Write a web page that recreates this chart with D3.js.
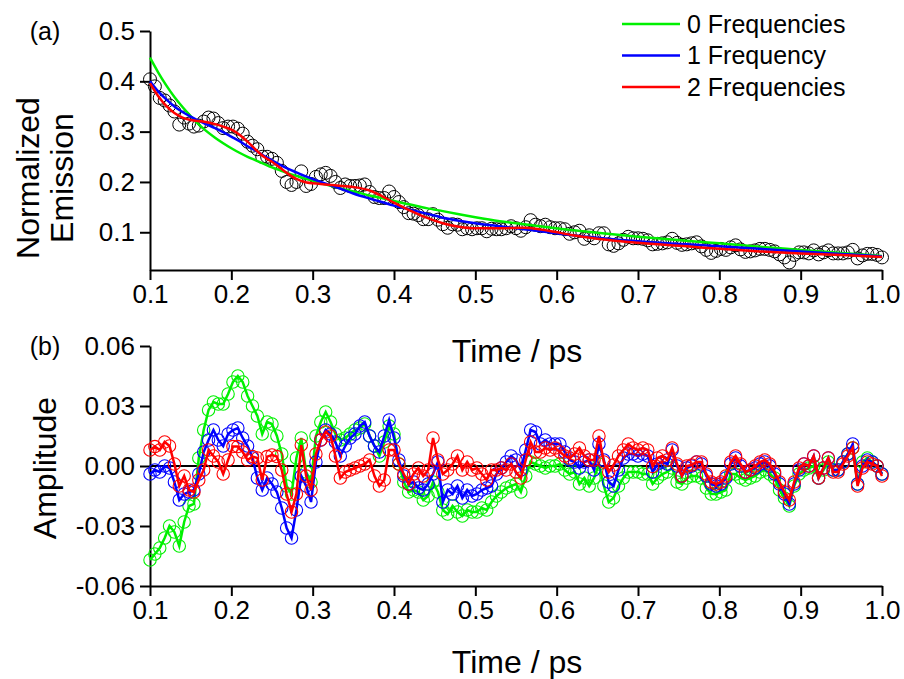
<!DOCTYPE html>
<html>
<head>
<meta charset="utf-8">
<script src="https://cdn.jsdelivr.net/npm/d3@7"></script>
<style>
  body { margin: 0; background: #fff; }
  svg { font-family: "Liberation Sans", Arial, sans-serif; }
</style>
</head>
<body>
<svg id="chart" width="904" height="679"></svg>
<script>
// Time grid of the measured points (ps)
const timeStart = 0.1;
const timeStep = 0.006;
const pointCount = 151;

// Panel (a): normalized emission (black circles)
const emission = [
  0.404,0.390,0.367,0.362,0.352,0.340,0.314,0.328,0.316,0.310,
  0.312,0.320,0.328,0.326,0.317,0.307,0.310,0.310,0.306,0.296,
  0.280,0.272,0.265,0.250,0.250,0.246,0.238,0.222,0.200,0.194,
  0.200,0.221,0.192,0.196,0.210,0.215,0.218,0.212,0.200,0.188,
  0.195,0.192,0.192,0.193,0.195,0.180,0.170,0.168,0.168,0.181,
  0.170,0.160,0.150,0.138,0.137,0.134,0.126,0.126,0.136,0.125,
  0.116,0.109,0.116,0.115,0.106,0.108,0.106,0.108,0.108,0.102,
  0.107,0.106,0.106,0.108,0.112,0.108,0.103,0.110,0.124,0.115,
  0.112,0.115,0.110,0.108,0.108,0.106,0.097,0.100,0.103,0.087,
  0.094,0.088,0.098,0.098,0.076,0.073,0.078,0.085,0.091,0.088,
  0.088,0.087,0.084,0.076,0.077,0.078,0.080,0.087,0.079,0.075,
  0.076,0.078,0.080,0.072,0.065,0.059,0.063,0.067,0.065,0.070,
  0.074,0.066,0.061,0.062,0.064,0.067,0.067,0.065,0.062,0.056,
  0.050,0.040,0.055,0.060,0.060,0.058,0.064,0.056,0.060,0.064,
  0.058,0.058,0.058,0.060,0.065,0.048,0.054,0.057,0.057,0.055,
  0.050
];

// Panel (a): fitted curves
const fitTimes = [0.10,0.11,0.12,0.13,0.14,0.15,0.165,0.18,0.19,0.20,0.21,0.22,0.23,0.24,0.25,0.26,0.27,0.28,0.29,0.31,0.33,0.35,0.37,0.385,0.40,0.42,0.44,0.46,0.48,0.50,0.53,0.56,0.59,0.62,0.65,0.70,0.76,0.80,0.85,0.90,0.95,1.00];
const fit0 = [0.447,0.418,0.392,0.369,0.349,0.331,0.307,0.288,0.277,0.267,0.258,0.250,0.243,0.236,0.229,0.223,0.217,0.212,0.207,0.198,0.189,0.181,0.173,0.168,0.162,0.155,0.148,0.142,0.136,0.130,0.122,0.116,0.110,0.104,0.099,0.091,0.083,0.078,0.071,0.065,0.059,0.053];
const fit1 = [0.400,0.380,0.364,0.350,0.339,0.330,0.318,0.307,0.299,0.290,0.281,0.271,0.262,0.252,0.243,0.234,0.226,0.219,0.212,0.200,0.189,0.177,0.167,0.160,0.153,0.145,0.137,0.129,0.123,0.118,0.112,0.106,0.100,0.094,0.089,0.082,0.076,0.072,0.067,0.062,0.057,0.052];
const fit2 = [0.396,0.371,0.351,0.337,0.328,0.323,0.320,0.315,0.310,0.304,0.294,0.280,0.264,0.250,0.240,0.228,0.216,0.206,0.200,0.196,0.193,0.190,0.183,0.172,0.159,0.143,0.129,0.118,0.111,0.108,0.108,0.109,0.103,0.094,0.087,0.079,0.072,0.067,0.062,0.058,0.055,0.051];

// Panel (b): residual amplitudes
const resid0 = [
  -0.047,-0.044,-0.041,-0.036,-0.030,-0.033,-0.040,-0.028,-0.020,-0.019,
  0.004,0.018,0.028,0.032,0.031,0.031,0.036,0.042,0.045,0.042,
  0.035,0.030,0.025,0.016,0.022,0.021,0.015,0.006,-0.010,-0.014,
  0.004,0.014,-0.003,-0.008,0.015,0.022,0.027,0.022,0.016,0.013,
  0.014,0.016,0.018,0.019,0.021,0.015,0.010,0.005,0.012,0.020,
  0.016,0.001,-0.008,-0.013,-0.012,-0.013,-0.017,-0.015,-0.008,-0.013,
  -0.022,-0.024,-0.020,-0.023,-0.025,-0.022,-0.023,-0.023,-0.021,-0.022,
  -0.018,-0.015,-0.013,-0.011,-0.010,-0.009,-0.013,-0.005,0.002,0.001,
  0.000,-0.001,0.000,0.000,0.001,-0.002,-0.004,-0.003,-0.009,-0.006,
  -0.010,-0.006,0.001,-0.010,-0.018,-0.016,-0.010,-0.006,-0.003,-0.003,
  -0.003,-0.004,-0.004,-0.009,-0.006,-0.004,-0.003,-0.001,-0.008,-0.009,
  -0.006,-0.005,-0.005,-0.006,-0.011,-0.014,-0.014,-0.013,-0.012,-0.004,
  -0.004,-0.006,-0.007,-0.006,-0.005,-0.003,-0.002,-0.004,-0.006,-0.012,
  -0.016,-0.020,-0.010,-0.004,-0.002,-0.001,0.000,-0.006,-0.002,0.002,
  -0.002,-0.002,0.002,0.006,0.009,-0.009,0.002,0.004,0.002,0.000,
  -0.004
];
const resid1 = [
  -0.004,-0.002,-0.003,0.000,-0.001,-0.008,-0.017,-0.014,-0.013,-0.012,
  -0.004,0.007,0.013,0.018,0.013,0.010,0.016,0.018,0.019,0.014,
  0.010,0.004,-0.006,-0.012,-0.006,-0.009,-0.013,-0.021,-0.031,-0.036,
  -0.022,-0.005,-0.010,-0.018,0.002,0.013,0.018,0.016,0.012,0.005,
  0.010,0.014,0.016,0.020,0.022,0.015,0.010,0.007,0.015,0.023,
  0.014,0.003,-0.005,-0.009,-0.008,-0.011,-0.012,-0.009,-0.004,0.002,
  -0.018,-0.012,-0.014,-0.010,-0.016,-0.012,-0.015,-0.014,-0.012,-0.011,
  -0.010,-0.004,-0.001,0.002,0.005,0.003,-0.002,0.008,0.018,0.017,
  0.011,0.013,0.011,0.011,0.011,0.007,0.003,0.002,-0.001,0.002,
  0.003,-0.002,0.011,0.003,-0.008,-0.010,-0.002,0.004,0.006,0.006,
  0.005,0.006,0.005,-0.003,0.001,0.002,0.001,0.008,0.000,-0.005,
  -0.001,0.000,0.002,0.001,-0.005,-0.009,-0.010,-0.009,-0.006,0.001,
  0.004,0.000,-0.003,-0.002,-0.001,0.001,0.002,0.000,-0.004,-0.009,
  -0.014,-0.019,-0.009,-0.002,0.001,0.000,0.005,-0.006,-0.001,0.004,
  -0.002,-0.002,0.002,0.006,0.011,-0.009,0.000,0.003,0.002,0.000,
  -0.004
];
const resid2 = [
  0.008,0.0097,0.008,0.012,0.010,0.001,-0.010,-0.005,-0.012,-0.013,
  -0.007,-0.002,0.008,0.005,0.002,-0.004,0.003,0.0097,0.0097,0.007,
  0.003,0.0047,0.004,-0.007,0.0047,0.0055,0.0047,-0.002,-0.014,-0.023,
  -0.014,0.0105,-0.005,-0.012,0.006,0.013,0.017,0.015,0.005,-0.006,
  -0.003,-0.002,-0.001,0.000,0.001,0.003,-0.005,-0.010,-0.007,0.008,
  0.008,0.001,-0.004,-0.009,-0.004,-0.001,-0.005,-0.002,0.014,0.003,
  -0.004,-0.002,0.001,0.005,-0.002,0.002,-0.002,-0.001,-0.004,-0.007,
  -0.002,-0.002,-0.001,-0.002,0.001,-0.003,-0.006,0.003,0.012,0.007,
  0.007,0.009,0.008,0.009,0.007,0.005,0.004,0.006,0.009,0.005,
  0.003,0.003,0.015,0.002,-0.003,0.0005,0.005,0.008,0.011,0.009,
  0.008,0.009,0.008,-0.0003,0.004,0.005,0.003,0.009,0.001,-0.005,
  0.000,0.0005,0.002,0.002,-0.004,-0.008,-0.009,-0.008,-0.005,0.002,
  0.005,0.001,-0.003,-0.002,0.000,0.002,0.003,0.001,-0.003,-0.008,
  -0.013,-0.017,-0.008,-0.001,0.001,0.000,0.005,-0.006,-0.001,0.004,
  -0.003,-0.003,0.001,0.005,0.009,-0.010,-0.001,0.002,0.001,0.000,
  -0.005
];

// Axis ticks
const xTicks = [0.1,0.2,0.3,0.4,0.5,0.6,0.7,0.8,0.9,1.0];
const xMinor = [0.15,0.25,0.35,0.45,0.55,0.65,0.75,0.85,0.95];
const yTicksA = [0.1,0.2,0.3,0.4,0.5];
const yMinorA = [0.05,0.15,0.25,0.35,0.45];
const yTicksB = [-0.06,-0.03,0.00,0.03,0.06];
const yMinorB = [-0.045,-0.015,0.015,0.045];

const seriesNames = ["0 Frequencies", "1 Frequency", "2 Frequencies"];
const seriesColors = ["#00f000", "#0000ff", "#ff0000"];

const times = d3.range(pointCount).map(i => timeStart + i * timeStep);

const svg = d3.select("#chart");
svg.append("rect").attr("width", 904).attr("height", 679).attr("fill", "#fff");

const x = d3.scaleLinear().domain([0.1, 1.0]).range([150, 882]);
const yA = d3.scaleLinear().domain([0.025, 0.5]).range([270, 31]);
const yB = d3.scaleLinear().domain([-0.06, 0.06]).range([586, 346]);

/**
 * Draw major + minor ticks for an axis
 */
function drawAxis(axisFn, scale, major, minor, fmt, transform) {
    const g = svg.append("g").attr("transform", transform);
    g.call(axisFn(scale).tickValues(minor).tickSize(5).tickFormat(""));
    g.call(axisFn(scale).tickValues(major).tickSize(10).tickSizeOuter(0).tickPadding(5).tickFormat(fmt));
    g.selectAll("path.domain").attr("stroke-width", 2);
    g.selectAll(".tick line").attr("stroke-width", 2);
    g.selectAll("text").attr("font-size", 26).attr("fill", "#000");
    return g;
}

const fmt1 = d => d.toFixed(1);
const fmt2 = d => d.toFixed(2);

drawAxis(d3.axisBottom, x, xTicks, xMinor, fmt1, "translate(0,270)");
drawAxis(d3.axisLeft, yA, yTicksA, yMinorA, fmt1, "translate(150,0)");
drawAxis(d3.axisBottom, x, xTicks, xMinor, fmt1, "translate(0,586)");
drawAxis(d3.axisLeft, yB, yTicksB, yMinorB, fmt2, "translate(150,0)");

// zero line in panel (b)
svg.append("line")
    .attr("x1", x(0.1)).attr("x2", x(1.0))
    .attr("y1", yB(0)).attr("y2", yB(0))
    .attr("stroke", "#000").attr("stroke-width", 2);

/*
 * Panel (a)
 */
const pts = times.map((t, i) => ({ t: t, v: emission[i] }));
svg.append("g").selectAll("circle")
    .data(pts)
    .enter()
    .append("circle")
    .attr("cx", d => x(d.t))
    .attr("cy", d => yA(d.v))
    .attr("r", 6.5)
    .attr("fill", "none")
    .attr("stroke", "#000")
    .attr("stroke-width", 1);

const fitLine = d3.line()
    .x(d => x(d.t))
    .y(d => yA(d.v))
    .curve(d3.curveMonotoneX);

[fit0, fit1, fit2].forEach((fit, k) => {
    const data = fitTimes.map((t, i) => ({ t: t, v: fit[i] }));
    svg.append("path")
        .datum(data)
        .attr("d", fitLine)
        .attr("fill", "none")
        .attr("stroke", seriesColors[k])
        .attr("stroke-width", 2.5);
});

/*
 * Panel (b)
 */
const residLine = d3.line()
    .x(d => x(d.t))
    .y(d => yB(d.v));

[resid0, resid1, resid2].forEach((res, k) => {
    const data = times.map((t, i) => ({ t: t, v: res[i] }));
    svg.append("g").selectAll("circle")
        .data(data)
        .enter()
        .append("circle")
        .attr("cx", d => x(d.t))
        .attr("cy", d => yB(d.v))
        .attr("r", 6.2)
        .attr("fill", "none")
        .attr("stroke", seriesColors[k])
        .attr("stroke-width", 1.1);
    svg.append("path")
        .datum(data)
        .attr("d", residLine)
        .attr("fill", "none")
        .attr("stroke", seriesColors[k])
        .attr("stroke-width", 2.5);
});

/*
 * Legend
 */
seriesNames.forEach((name, k) => {
    const ly = 24 + k * 31.5;
    svg.append("line")
        .attr("x1", 622).attr("x2", 680)
        .attr("y1", ly).attr("y2", ly)
        .attr("stroke", seriesColors[k]).attr("stroke-width", 2.5);
    svg.append("text")
        .attr("x", 687).attr("y", ly)
        .attr("dy", "0.35em")
        .attr("font-size", 25)
        .text(name);
});

/*
 * Labels
 */
function label(txt, lx, ly, size, rotate) {
    svg.append("text")
        .attr("transform", `translate(${lx},${ly})` + (rotate ? " rotate(-90)" : ""))
        .attr("text-anchor", "middle")
        .attr("dy", "0.35em")
        .attr("font-size", size)
        .text(txt);
}

label("(a)", 45, 31, 25, false);
label("(b)", 45, 346, 25, false);
label("Time / ps", 517, 351, 32, false);
label("Time / ps", 517, 662, 32, false);
label("Normalized", 28, 178, 32, true);
label("Emission", 62, 178, 32, true);
label("Amplitude", 45, 468, 32, true);
</script>
</body>
</html>
